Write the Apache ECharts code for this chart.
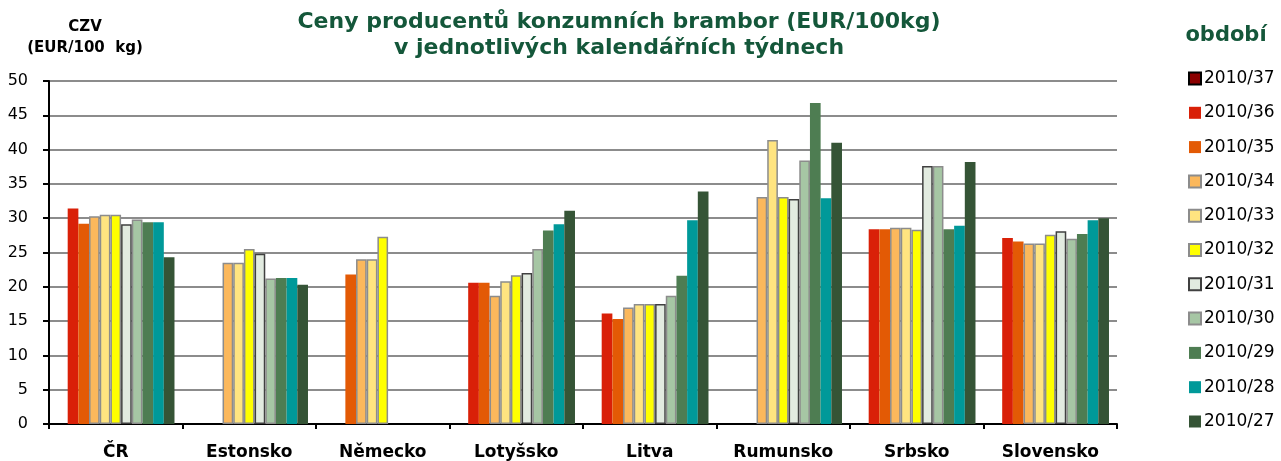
<!DOCTYPE html>
<html>
<head>
<meta charset="utf-8">
<title>Ceny producentů konzumních brambor</title>
<script src="https://cdn.jsdelivr.net/npm/echarts@6/dist/echarts.min.js"></script>
<style>
	html,body{margin:0;padding:0;background:#fff;}
	#chart{width:1281px;height:461px;}
</style>
</head>
<body>
<div id="chart"></div>
<script>
// kategorie (země)
var countries = ['ČR', 'Estonsko', 'Německo', 'Lotyšsko', 'Litva', 'Rumunsko', 'Srbsko', 'Slovensko'];
// období
var weeks = ['2010/37', '2010/36', '2010/35', '2010/34', '2010/33', '2010/32', '2010/31', '2010/30', '2010/29', '2010/28', '2010/27'];
var yTicks = [0, 5, 10, 15, 20, 25, 30, 35, 40, 45, 50];

// hodnoty EUR/100kg po týdnech, pořadí zemí jako countries
var w37 = [null, null, null, null, null, null, null, null];
var w36 = [31.4, null, null, 20.6, 16.1, null, 28.4, 27.1];
var w35 = [29.2, null, 21.8, 20.6, 15.3, null, 28.4, 26.6];
var w34 = [30.3, 23.5, 24.0, 18.7, 17.0, 33.1, 28.6, 26.3];
var w33 = [30.5, 23.5, 24.0, 20.8, 17.5, 41.4, 28.6, 26.3];
var w32 = [30.5, 25.5, 27.3, 21.7, 17.5, 33.1, 28.3, 27.6];
var w31 = [29.1, 24.8, null, 22.0, 17.5, 32.8, 37.6, 28.1];
var w30 = [29.8, 21.2, null, 25.5, 18.7, 38.4, 37.6, 27.0];
var w29 = [29.4, 21.3, null, 28.2, 21.6, 46.8, 28.4, 27.7];
var w28 = [29.4, 21.3, null, 29.1, 29.7, 32.9, 28.9, 29.7];
var w27 = [24.3, 20.3, null, 31.1, 33.9, 41.0, 38.2, 30.0];

var seriesData = [w37, w36, w35, w34, w33, w32, w31, w30, w29, w28, w27];
var fillColors = ['#8B0000', '#D92008', '#E35A05', '#FBB85C', '#FFE480', '#FFFF00', '#E2EBE0', '#A6C6A4', '#4E7D52', '#009999', '#355436'];
var borderColors = ['#000000', null, null, '#8C8C8C', '#8C8C8C', '#8C8C8C', '#404040', '#8C8C8C', null, null, null];

var chart = echarts.init(document.getElementById('chart'));

var series = [];
for (var i = 0; i < weeks.length; i++) {
	var st = {color: fillColors[i]};
	if (borderColors[i]) {
		st.borderColor = borderColors[i];
		st.borderWidth = 1.5;
	}
	series.push({
		name: weeks[i],
		type: 'bar',
		data: seriesData[i],
		barGap: '0%',
		barCategoryGap: '12%',
		itemStyle: st
	});
}

var option = {
	animation: false,
	textStyle: {fontFamily: 'DejaVu Sans'},
	title: [{
		text: 'Ceny producentů konzumních brambor (EUR/100kg)\nv jednotlivých kalendářních týdnech',
		left: 614,
		top: 4,
		textAlign: 'center',
		textStyle: {fontFamily: 'DejaVu Sans', fontSize: 22, fontWeight: 'bold', color: '#14573A', lineHeight: 26}
	}, {
		text: 'CZV\n(EUR/100  kg)',
		left: 80,
		top: 12,
		textAlign: 'center',
		textStyle: {fontFamily: 'DejaVu Sans', fontSize: 15, fontWeight: 'bold', color: '#000', lineHeight: 21}
	}, {
		text: 'období',
		left: 1221,
		top: 20,
		textAlign: 'center',
		textStyle: {fontFamily: 'DejaVu Sans', fontSize: 21, fontWeight: 'bold', color: '#14573A'}
	}],
	legend: {
		orient: 'vertical',
		left: 1183,
		top: 65,
		data: weeks,
		icon: 'rect',
		itemWidth: 12,
		itemHeight: 12,
		itemGap: 17.3,
		textStyle: {fontFamily: 'DejaVu Sans', fontSize: 17, color: '#000', lineHeight: 17, padding: [0, 0, 0, -2]}
	},
	grid: {left: 49, right: 164, top: 81, bottom: 37},
	xAxis: {
		type: 'category',
		data: countries,
		axisLine: {lineStyle: {color: '#000', width: 2}},
		axisTick: {show: true, length: 5, lineStyle: {color: '#000', width: 2}},
		axisLabel: {fontFamily: 'DejaVu Sans', fontSize: 17, fontWeight: 'bold', color: '#000', margin: 20}
	},
	yAxis: {
		type: 'value',
		min: yTicks[0],
		max: yTicks[yTicks.length - 1],
		interval: 5,
		axisLine: {show: true, lineStyle: {color: '#000', width: 2}},
		axisTick: {show: true, length: 6, lineStyle: {color: '#000', width: 2}},
		axisLabel: {fontFamily: 'DejaVu Sans', fontSize: 16, color: '#000', margin: 21},
		splitLine: {lineStyle: {color: '#8C8C8C', width: 2}}
	},
	series: series
};

chart.setOption(option);
</script>
</body>
</html>
